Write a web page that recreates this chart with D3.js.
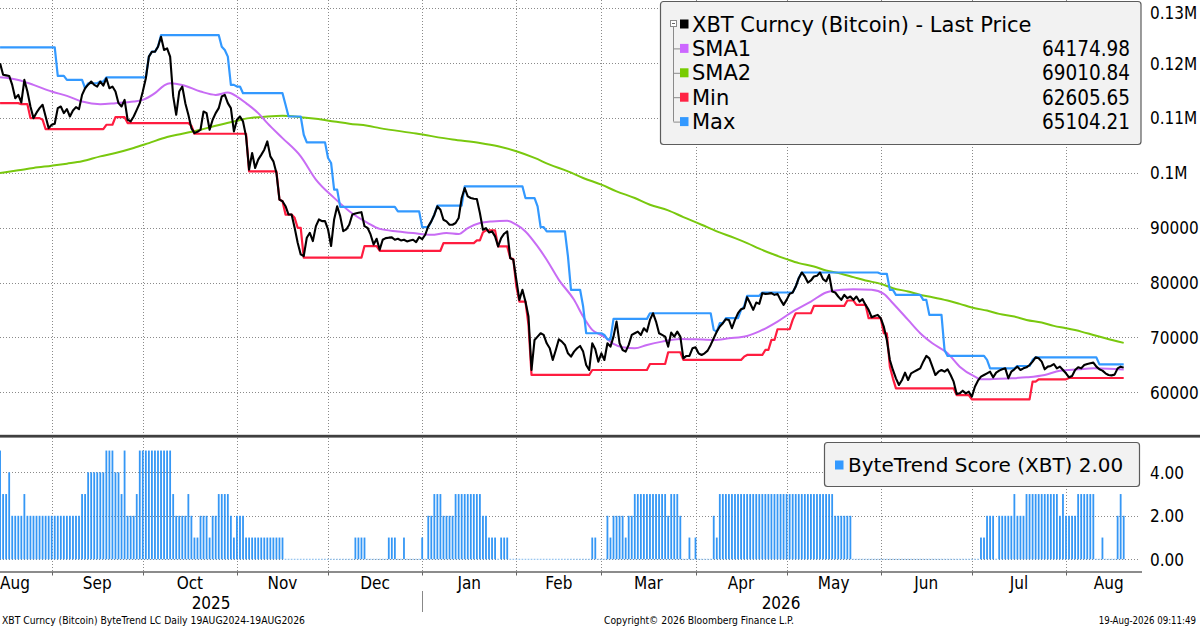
<!DOCTYPE html>
<html><head><meta charset="utf-8">
<script src="https://cdn.jsdelivr.net/npm/d3@7"></script>
<style>
html,body{margin:0;padding:0;background:#fff;}
svg{display:block;}
</style></head><body>
<svg id="chart" width="1200" height="627"></svg>
<script>
// ---------------- DATA ----------------
const priceStart = "2025-08-15";
const price = [
120000,117900,117800,117700,116060,113640,114240,112850,116970,114850,
112120,110000,111000,111820,112430,110300,108180,108790,108970,111820,
112120,110910,111640,110300,111390,112000,111640,114240,115450,116100,
116670,116060,115760,116670,115940,117270,115450,115760,114850,112730,
112120,113330,109700,109400,110300,111500,112730,114850,117270,121210,
122120,122120,123030,124850,122420,122730,121210,114000,110610,114850,
115760,112730,110610,108180,107270,107500,107880,111210,110910,107880,
109700,110910,111820,113940,114240,112730,111820,107580,109700,110300,
109400,106670,100610,103640,100910,102430,103300,104240,105760,103030,
102120,100000,95150,94850,93940,92420,92420,90000,87270,85150,
84850,88180,89090,87580,90300,91520,91210,91210,89700,86670,
91520,93940,92120,89390,89700,90610,92420,92600,92730,92850,
90300,90000,88790,86970,88000,85990,87820,88120,88200,88250,
87820,88000,87700,87820,87520,87700,87820,87390,88310,87940,
88730,90260,91170,92390,93910,93300,91470,91170,90560,90560,
90870,91780,95430,97260,95740,95430,95300,95250,92690,89650,
89950,89160,89340,88430,86600,88120,88920,89340,84470,84170,
80500,76860,78690,76550,73810,64070,69550,70160,70770,70460,
68940,68030,65900,67720,69670,69240,68640,67110,66500,67420,
68030,68450,67420,64980,64070,68940,67840,65590,67110,65900,
68940,68330,70160,72900,68940,67720,67420,68640,70460,70770,
71070,70460,71680,71070,73200,74420,72900,70770,70460,70160,
68330,70890,70160,71070,70160,66200,66630,66630,68030,68210,
67110,66810,67110,67600,68640,69850,71070,71990,72600,73330,
73200,71680,73200,74420,75150,75340,77350,76250,75030,76370,
76130,78080,77950,78000,78080,77770,77950,76860,75940,76860,
77950,78200,79290,80820,81850,81120,80020,80390,81120,81240,
81850,80630,80210,81430,78380,78200,77470,76860,77770,77160,
77470,76860,77470,76550,76980,75940,75030,73690,73930,74120,
73510,71990,69550,65900,64070,62550,61330,62240,63580,62240,
63460,63760,64070,64370,65590,66630,66200,64680,63150,63760,
64070,63760,64190,63150,61940,59680,59810,60290,59810,60110,
59200,61020,62120,62850,63150,63460,63760,62730,63580,63950,
64190,64370,62550,63760,64190,64680,64070,64370,64560,64980,
65590,66380,66200,65590,64190,64680,64800,65160,64370,64680,
64070,63460,62730,62970,64070,64560,64370,64980,65160,65290,
65410,64680,64190,63950,63460,63150,63090,63220,64370,64680,
64500
];

const sma1 = [
["2025-08-15",117450],["2025-08-21",116970],["2025-08-26",116060],["2025-09-01",114850],
["2025-09-06",114060],["2025-09-11",113030],["2025-09-17",112550],["2025-09-22",112730],
["2025-09-28",113030],["2025-10-01",113330],["2025-10-05",114550],["2025-10-08",115940],
["2025-10-10",116360],["2025-10-14",116060],["2025-10-20",114850],["2025-10-25",114240],
["2025-10-29",114670],["2025-11-01",113940],["2025-11-04",112730],["2025-11-08",110910],
["2025-11-11",109090],["2025-11-16",106360],["2025-11-22",103030],["2025-11-27",98790],
["2025-12-03",95460],["2025-12-08",93030],["2025-12-14",90910],["2025-12-18",89800],
["2025-12-24",89340],["2025-12-29",89040],["2026-01-04",88730],["2026-01-09",89040],
["2026-01-13",88860],["2026-01-16",89950],["2026-01-20",90870],["2026-01-24",91170],
["2026-01-29",91290],["2026-02-01",90560],["2026-02-04",89340],["2026-02-08",86600],
["2026-02-11",84170],["2026-02-15",80510],["2026-02-20",76860],["2026-02-23",73810],
["2026-02-26",71380],["2026-03-02",70160],["2026-03-05",68820],["2026-03-08",68210],
["2026-03-12",68030],["2026-03-16",68640],["2026-03-21",69240],["2026-03-27",69730],
["2026-04-01",69670],["2026-04-07",69550],["2026-04-12",69850],["2026-04-18",70280],
["2026-04-22",71100],["2026-04-28",72900],["2026-05-03",74720],["2026-05-09",76550],
["2026-05-14",78200],["2026-05-19",78690],["2026-05-23",78810],["2026-05-29",78690],
["2026-06-02",77960],["2026-06-05",76250],["2026-06-10",73200],["2026-06-14",70770],
["2026-06-18",68940],["2026-06-23",67110],["2026-06-27",64680],["2026-07-02",62850],
["2026-07-04",62360],["2026-07-08",62420],["2026-07-14",62550],["2026-07-19",62730],
["2026-07-25",63160],["2026-07-30",63950],["2026-08-05",64190],["2026-08-10",64370],
["2026-08-15",64310],["2026-08-20",64175]
];

const sma2 = [
["2025-08-15",100000],["2025-08-21",100490],["2025-08-26",100910],["2025-09-01",101330],
["2025-09-06",101700],["2025-09-11",102120],["2025-09-17",103030],["2025-09-22",103640],
["2025-09-28",104550],["2025-10-03",105450],["2025-10-09",106550],["2025-10-14",107150],
["2025-10-20",107880],["2025-10-25",108610],["2025-10-31",109390],["2025-11-05",110000],
["2025-11-11",110300],["2025-11-16",110420],["2025-11-22",110180],["2025-11-27",109880],
["2025-12-03",109390],["2025-12-08",108970],["2025-12-14",108610],["2025-12-18",108180],
["2025-12-30",107200],["2026-01-11",106090],["2026-01-20",105480],["2026-01-26",104870],
["2026-02-01",103960],["2026-02-07",102740],["2026-02-12",101520],["2026-02-18",100300],
["2026-02-23",99090],["2026-03-01",97870],["2026-03-06",96650],["2026-03-12",95430],
["2026-03-17",94210],["2026-03-23",93180],["2026-03-28",91960],["2026-04-03",90560],
["2026-04-08",89340],["2026-04-14",88120],["2026-04-18",87210],["2026-04-22",86200],
["2026-04-27",85080],["2026-05-01",84290],["2026-05-05",83560],["2026-05-10",82950],
["2026-05-14",82220],["2026-05-19",81610],["2026-05-23",81000],["2026-05-27",80390],
["2026-06-01",79780],["2026-06-05",78990],["2026-06-10",78380],["2026-06-14",77770],
["2026-06-18",77350],["2026-06-23",76740],["2026-06-27",76130],["2026-07-02",75340],
["2026-07-06",74910],["2026-07-10",74300],["2026-07-15",73810],["2026-07-19",73200],
["2026-07-24",72720],["2026-07-28",72110],["2026-08-01",71680],["2026-08-06",71070],
["2026-08-10",70460],["2026-08-14",69850],["2026-08-20",69011]
];

// rolling channel: dates where the level changes, and the new level
const maxSteps = [
["2025-08-15",122910],["2025-09-03",117700],["2025-09-06",116970],["2025-09-12",115450],
["2025-09-13",116360],["2025-09-17",116670],["2025-09-19",117450],["2025-10-03",121210],
["2025-10-04",122120],["2025-10-06",123030],["2025-10-07",125150],["2025-10-27",123030],
["2025-10-28",122420],["2025-10-29",121210],["2025-10-30",116060],["2025-11-01",115760],
["2025-11-03",114550],["2025-11-17",112430],["2025-11-18",110300],["2025-11-23",106970],
["2025-11-24",105580],["2025-12-01",102730],["2025-12-02",101820],["2025-12-03",96970],
["2025-12-05",93820],["2025-12-24",93000],["2026-01-01",90130],["2026-01-04",91170],
["2026-01-05",92390],["2026-01-06",94030],["2026-01-15",97560],["2026-02-04",95430],
["2026-02-08",93910],["2026-02-09",90130],["2026-02-11",89340],["2026-02-18",84780],
["2026-02-19",78690],["2026-02-23",75640],["2026-02-24",70770],["2026-03-02",70460],
["2026-03-03",69670],["2026-03-05",73390],["2026-03-17",74420],["2026-04-07",71380],
["2026-04-08",71070],["2026-04-09",72600],["2026-04-11",73510],["2026-04-16",75030],
["2026-04-17",75640],["2026-04-18",77590],["2026-04-23",78200],["2026-05-04",79290],
["2026-05-05",80820],["2026-05-06",81850],["2026-06-01",81610],["2026-06-04",78690],
["2026-06-06",77770],["2026-06-15",76860],["2026-06-17",74120],["2026-06-22",67720],
["2026-06-23",66630],["2026-07-06",65900],["2026-07-07",64370],["2026-07-16",64800],
["2026-07-21",65900],["2026-07-22",66380],["2026-08-12",65104]
];

const minSteps = [
["2025-08-15",112730],["2025-08-22",112550],["2025-08-25",110000],["2025-08-29",109700],
["2025-08-30",108000],["2025-09-19",108790],["2025-09-22",110180],["2025-09-26",109090],
["2025-10-17",108610],["2025-10-18",107150],["2025-11-05",100300],["2025-11-15",95150],
["2025-11-16",94850],["2025-11-17",92420],["2025-11-20",91820],["2025-11-21",90000],
["2025-11-23",84550],["2025-12-13",86670],["2025-12-18",85810],["2026-01-08",87210],
["2026-01-19",87700],["2026-01-21",89160],["2026-01-22",89530],["2026-01-26",86600],
["2026-01-30",84470],["2026-01-31",84290],["2026-02-01",79290],["2026-02-02",76550],
["2026-02-05",72290],["2026-02-06",63160],["2026-02-26",64070],["2026-03-17",65160],
["2026-03-23",67300],["2026-03-28",65900],["2026-04-17",66500],["2026-04-18",66810],
["2026-04-24",67720],["2026-04-26",69550],["2026-04-28",71500],["2026-05-03",73200],
["2026-05-04",74420],["2026-05-10",75760],["2026-05-21",76740],["2026-05-24",75940],
["2026-05-28",73510],["2026-06-02",70770],["2026-06-04",64680],["2026-06-05",62550],
["2026-06-06",60720],["2026-06-26",59500],["2026-07-01",58710],["2026-07-21",61940],
["2026-07-23",62360],["2026-08-02",62606]
];

const scoreStart = "2025-08-15";
const score = [
5,3,3,4,2,2,2,2,3,2, 2,2,2,2,2,2,2,2,2,2, 2,2,2,2,2,2,2,3,3,4, 4,4,4,4,4,5,5,5,4,4,
3,5,2,2,2,3,5,5,5,5, 5,5,5,5,5,5,5,3,2,2, 2,2,3,2,1,1,2,2,2,1, 2,2,3,3,3,3,2,1,2,2,
2,1,1,1,1,1,1,1,1,1, 1,1,1,1,0,0,0,0,0,0, 0,0,0,0,0,0,0,0,0,0, 0,0,0,0,0,0,0,1,1,1,
1,0,0,0,0,0,0,0,1,1, 1,0,0,1,0,0,0,0,0,1, 0,2,2,3,3,3,2,2,2,2, 3,3,3,3,3,3,3,3,3,2,
2,1,1,1,0,1,1,1,0,0, 0,0,0,0,0,0,0,0,0,0, 0,0,0,0,0,0,0,0,0,0, 0,0,0,0,0,1,1,0,0,0,
2,1,2,2,2,2,1,2,2,3, 3,3,3,3,3,3,3,3,3,3, 2,3,3,3,2,0,0,1,0,1, 0,0,0,0,0,2,1,3,3,3,
3,3,3,3,3,3,3,3,3,3, 3,3,3,3,3,3,3,3,3,3, 3,3,3,3,3,3,3,3,3,3, 3,3,3,3,3,2,2,2,2,2,
2,0,0,0,0,0,0,0,0,0, 0,0,0,0,0,0,0,0,0,0, 0,0,0,0,0,0,0,0,0,0, 0,0,0,0,0,0,0,0,0,0,
0,0,0,1,1,2,2,2,0,2, 2,2,2,2,3,2,2,2,3,3, 3,3,3,3,3,3,3,3,3,2, 3,2,2,2,2,3,3,3,3,3,
3,0,0,1,0,0,0,0,2,3, 2
];

const priceTicks = [60000,70000,80000,90000,100000,110000,120000,130000];
const priceTickLabels = ["60000","70000","80000","90000","0.1M","0.11M","0.12M","0.13M"];
const scoreTicks = [0,2,4];
const scoreTickLabels = ["0.00","2.00","4.00"];

const legendNames = ["XBT Curncy (Bitcoin) - Last Price","SMA1","SMA2","Min","Max"];
const legendValues = ["","64174.98","69010.84","62605.65","65104.21"];
const scoreLegend = "ByteTrend Score (XBT) 2.00";

const footerLeft = "XBT Curncy (Bitcoin) ByteTrend LC Daily 19AUG2024-19AUG2026";
const footerCenter = "Copyright\u00A9 2026 Bloomberg Finance L.P.";
const footerRight = "19-Aug-2026 09:11:49";

// ---------------- STYLE / LAYOUT ----------------
const C = {
  price:"#000000", sma1:"#c86cf4", sma2:"#79c80e", min:"#ff1c3f", max:"#3399ff",
  bar:"#3597f5", barZero:"#9fcdf7", grid:"#8a8a8a", legendFill:"#f2f2f2", legendStroke:"#5c5c5c"
};
const legendColors = [C.price, "#cc66ff", "#77cc00", "#ff2244", "#3399ff"];
const PL = 0, PR = 1140;
const TOP0 = 0, TOP1 = 434;
const BOT0 = 438, BOT1 = 572;
const axisFont = '"DejaVu Sans Condensed","DejaVu Sans",sans-serif';
const legendFont = '"DejaVu Sans",sans-serif';

const svg = d3.select("#chart");
const parse = d3.timeParse("%Y-%m-%d");

const x = d3.scaleTime()
  .domain([new Date(2025,8,1), new Date(2026,7,1)])
  .range([51.7, 1066]);
const yP = d3.scaleLinear().domain([60000,120000]).range([392.3,63.3]);
const yS = d3.scaleLinear().domain([0,4]).range([559.3,472.3]);

const p0 = parse(priceStart);
const priceData = price.map((v,i)=>({d:d3.timeDay.offset(p0,i), v}));
const s0 = parse(scoreStart);
const scoreData = score.map((v,i)=>({d:d3.timeDay.offset(s0,i), v}));
const lastDate = priceData[priceData.length-1].d;

const defs = svg.append("defs");
defs.append("clipPath").attr("id","clipTop").append("rect")
  .attr("x",PL).attr("y",TOP0).attr("width",PR-PL).attr("height",TOP1-TOP0);
defs.append("clipPath").attr("id","clipBot").append("rect")
  .attr("x",PL).attr("y",BOT0).attr("width",PR-PL).attr("height",BOT1-BOT0);

// ---------- gridlines ----------
const months = d3.timeMonth.range(new Date(2025,7,1), new Date(2026,8,1));
const gridMonths = months.filter(m => x(m) > PL+1 && x(m) < PR-1);
const gGrid = svg.append("g").attr("stroke",C.grid).attr("stroke-width",1)
  .attr("stroke-dasharray","1,2").attr("shape-rendering","crispEdges");
gridMonths.forEach(m=>{
  const xx = Math.round(x(m))+0.5;
  gGrid.append("line").attr("x1",xx).attr("x2",xx).attr("y1",TOP0).attr("y2",TOP1);
  gGrid.append("line").attr("x1",xx).attr("x2",xx).attr("y1",BOT0).attr("y2",BOT1);
});
priceTicks.forEach(t=>{
  const yy = Math.round(yP(t))+0.5;
  gGrid.append("line").attr("x1",PL).attr("x2",PR).attr("y1",yy).attr("y2",yy);
});
scoreTicks.forEach(t=>{
  const yy = Math.round(yS(t))+0.5;
  gGrid.append("line").attr("x1",PL).attr("x2",PR).attr("y1",yy).attr("y2",yy);
});

// ---------- price panel lines ----------
const topG = svg.append("g").attr("clip-path","url(#clipTop)");
const lineDV = d3.line().x(d=>x(d.d)).y(d=>yP(d.v));
function pairs(arr){ return arr.map(a=>({d:parse(a[0]), v:a[1]})); }
function stepPts(steps){
  const pts=[];
  steps.forEach((s,i)=>{
    const d=parse(s[0]);
    pts.push({d, v:s[1]});
    const hold = i<steps.length-1 ? d3.timeDay.offset(parse(steps[i+1][0]),-1) : lastDate;
    if (hold>d) pts.push({d:hold, v:s[1]});
  });
  return pts;
}
const smooth = d3.line().x(d=>x(d.d)).y(d=>yP(d.v)).curve(d3.curveMonotoneX);
topG.append("path").attr("d",smooth(pairs(sma2))).attr("fill","none")
  .attr("stroke",C.sma2).attr("stroke-width",2);
topG.append("path").attr("d",smooth(pairs(sma1))).attr("fill","none")
  .attr("stroke",C.sma1).attr("stroke-width",2);
topG.append("path").attr("d",lineDV(stepPts(minSteps))).attr("fill","none")
  .attr("stroke",C.min).attr("stroke-width",2.2).attr("stroke-linejoin","round");
topG.append("path").attr("d",lineDV(stepPts(maxSteps))).attr("fill","none")
  .attr("stroke",C.max).attr("stroke-width",2.2).attr("stroke-linejoin","round");
topG.append("path").attr("d",lineDV(priceData)).attr("fill","none")
  .attr("stroke",C.price).attr("stroke-width",2.1).attr("stroke-linejoin","round");

// ---------- score bars ----------
const botG = svg.append("g").attr("clip-path","url(#clipBot)");
botG.selectAll("rect.bar").data(scoreData).enter().append("rect")
  .attr("class","bar")
  .attr("x",d=>x(d.d)-0.9).attr("width",1.8)
  .attr("y",d=> d.v>0 ? yS(d.v) : yS(0)-0.6)
  .attr("height",d=> d.v>0 ? yS(0)-yS(d.v) : 1.2)
  .attr("fill",d=> d.v>0 ? C.bar : C.barZero);

// ---------- panel separator ----------
svg.append("rect").attr("x",0).attr("y",434.8).attr("width",1200).attr("height",2.8).attr("fill","#3f3f3f");

// ---------- x axis ----------
svg.append("line").attr("x1",PL).attr("x2",PR+2).attr("y1",572).attr("y2",572)
  .attr("stroke","#666").attr("stroke-width",1.6);
gridMonths.forEach(m=>{
  const xx = Math.round(x(m))+0.5;
  svg.append("line").attr("x1",xx).attr("x2",xx).attr("y1",572).attr("y2",575.5)
    .attr("stroke","#666").attr("stroke-width",1);
});
const fmtMon = d3.timeFormat("%b");
const xLast = x(lastDate);
months.forEach(m=>{
  const mid = (x(m)+x(d3.timeMonth.offset(m,1)))/2;
  const t = svg.append("text").text(fmtMon(m)).attr("y",589)
    .attr("font-family",axisFont).attr("font-size",17).attr("fill","#000");
  const w = t.node().getComputedTextLength();
  let left = mid - w/2;
  if (left < 0) left = 0;
  if (left + w > xLast) left = xLast - w;
  t.attr("x",left);
});
[2025,2026].forEach(yr=>{
  const a = Math.max(PL, x(new Date(yr,0,1))), b = Math.min(PR, x(new Date(yr+1,0,1)));
  svg.append("text").text(String(yr)).attr("x",(a+b)/2).attr("y",609)
    .attr("text-anchor","middle").attr("font-family",axisFont).attr("font-size",17).attr("fill","#000");
});
const xy = Math.round(x(new Date(2026,0,1)))+0.5;
svg.append("line").attr("x1",xy).attr("x2",xy).attr("y1",591).attr("y2",612)
  .attr("stroke","#888").attr("stroke-width",1);

// ---------- right axes ----------
priceTicks.forEach((t,i)=>{
  const yy = Math.max(yP(t), 12.3);
  svg.append("text").text(priceTickLabels[i]).attr("x",1150).attr("y",yy+6.2)
    .attr("font-family",axisFont).attr("font-size",17).attr("fill","#000");
});
scoreTicks.forEach((t,i)=>{
  svg.append("text").text(scoreTickLabels[i]).attr("x",1150).attr("y",yS(t)+6.2)
    .attr("font-family",axisFont).attr("font-size",17).attr("fill","#000");
});

// ---------- top legend ----------
const lg = svg.append("g");
lg.append("rect").attr("x",660.5).attr("y",1.5).attr("width",480.5).attr("height",143)
  .attr("rx",3).attr("fill",C.legendFill).attr("stroke",C.legendStroke).attr("stroke-width",1.2);
const rowY = i => 24 + i*24.4;
lg.append("line").attr("x1",673.5).attr("x2",673.5).attr("y1",rowY(0)+3).attr("y2",rowY(4))
  .attr("stroke","#8a8a8a").attr("stroke-width",1);
lg.append("rect").attr("x",670.5).attr("y",rowY(0)-3.5).attr("width",6).attr("height",6)
  .attr("fill","#fff").attr("stroke","#8a8a8a").attr("stroke-width",1);
lg.append("line").attr("x1",672).attr("x2",675).attr("y1",rowY(0)-0.5).attr("y2",rowY(0)-0.5)
  .attr("stroke","#666").attr("stroke-width",1);
legendNames.forEach((n,i)=>{
  const cy = rowY(i);
  if (i>0) lg.append("line").attr("x1",673.5).attr("x2",680).attr("y1",cy+0.5).attr("y2",cy+0.5)
    .attr("stroke","#8a8a8a").attr("stroke-width",1);
  lg.append("rect").attr("x",680).attr("y",cy-4.5).attr("width",8.5).attr("height",9)
    .attr("fill",legendColors[i]);
  lg.append("text").text(n).attr("x",692).attr("y",cy+7.6)
    .attr("font-family",legendFont).attr("font-size",21).attr("fill","#000");
  if (legendValues[i]) lg.append("text").text(legendValues[i]).attr("x",1130).attr("y",cy+7.6)
    .attr("text-anchor","end").attr("font-family",axisFont).attr("font-size",20.5).attr("fill","#000");
});

// ---------- bottom legend ----------
svg.append("rect").attr("x",824.5).attr("y",442.5).attr("width",315).attr("height",44)
  .attr("rx",3).attr("fill",C.legendFill).attr("stroke",C.legendStroke).attr("stroke-width",1.2);
svg.append("rect").attr("x",835).attr("y",460.5).attr("width",8.5).attr("height",9).attr("fill",C.max);
svg.append("text").text(scoreLegend).attr("x",848).attr("y",472)
  .attr("font-family",legendFont).attr("font-size",20).attr("fill","#000");

// ---------- footer ----------
svg.append("text").text(footerLeft).attr("x",2).attr("y",624)
  .attr("font-family",axisFont).attr("font-size",10.5).attr("fill","#000")
  .attr("textLength",303).attr("lengthAdjust","spacingAndGlyphs");
svg.append("text").text(footerCenter).attr("x",604).attr("y",624)
  .attr("font-family",axisFont).attr("font-size",10.5).attr("fill","#000")
  .attr("textLength",190).attr("lengthAdjust","spacingAndGlyphs");
svg.append("text").text(footerRight).attr("x",1196).attr("y",624).attr("text-anchor","end")
  .attr("font-family",axisFont).attr("font-size",9.6).attr("fill","#000");
</script>
</body></html>
